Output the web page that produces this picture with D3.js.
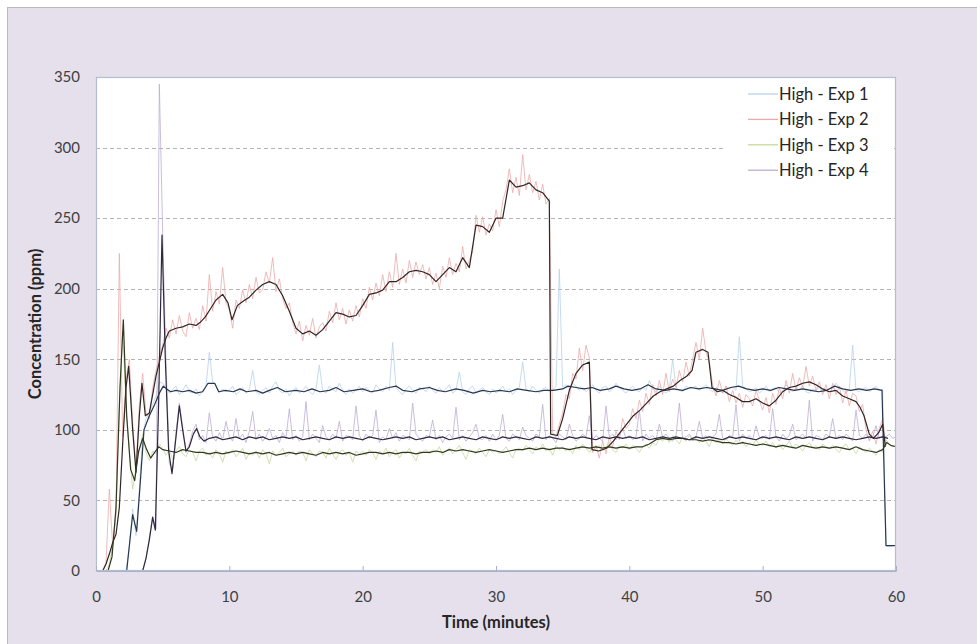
<!DOCTYPE html>
<html>
<head>
<meta charset="utf-8">
<script src="https://cdn.jsdelivr.net/npm/d3@7"></script>
<style>
  html, body { margin: 0; padding: 0; background: #ffffff; }
  svg { display: block; font-family: Lato, "Open Sans", sans-serif; }
</style>
</head>
<body>
<svg id="chart" width="977" height="644"></svg>
<script>
// ---- Data -------------------------------------------------------------
const seriesNames = ["High - Exp 1", "High - Exp 2", "High - Exp 3", "High - Exp 4"];
const xTicks = [0, 10, 20, 30, 40, 50, 60];
const yTicks = [0, 50, 100, 150, 200, 250, 300, 350];
const gridValues = [50, 100, 150, 200, 250, 300];
const sampleStep = 0.25; // minutes between logged readings

// Logged readings (ppm), one every 15 s from 0 to 60 min
const exp1 = [
  0,0,0,0,0,0,0,0,0,0, 18,44,25,58,96,108,112,118,124,134,
  133,130,126,129,131,125,128,132,127,126, 129,124,128,131,155,134,132,126,129,127,
  128,131,125,127,130,126,129,142,127,125, 128,130,126,131,134,128,126,129,124,128,
  130,126,128,131,127,125,129,146,128,126, 131,129,127,133,128,125,129,126,128,131,
  127,130,128,126,132,129,127,131,128,162, 130,127,125,129,131,128,126,130,129,127,
  131,128,126,130,127,129,132,126,128,141, 127,125,129,131,126,128,130,127,125,129,
  126,128,131,127,129,125,128,130,148,129, 127,131,128,126,129,130,127,128,131,214,
  130,132,129,133,131,128,130,127,129,132, 128,126,130,131,127,129,133,130,128,126,
  129,131,128,127,130,128,135,129,127,131, 128,126,129,150,130,128,127,131,129,130,
  131,128,130,132,129,127,130,128,126,131, 129,130,128,166,131,129,127,128,130,126,
  128,131,127,129,130,126,128,132,129,127, 130,128,131,127,126,129,128,130,127,129,
  127,129,133,130,128,126,129,160,128,127, 129,130,127,129,131,128,129,18,17,18,
  18
];
const exp2 = [
  0,0,0,6,58,18,40,225,95,135, 150,105,72,118,140,112,108,130,142,152,
  160,172,165,178,168,181,170,166,183,172, 179,171,188,177,210,184,198,189,215,190,
  185,172,192,186,199,190,203,193,208,197, 199,212,204,222,198,207,193,186,190,176,
  168,177,163,174,167,179,165,173,176,170, 184,176,190,178,186,175,185,177,188,180,
  193,186,201,192,204,195,210,198,212,201, 225,203,214,204,220,208,219,210,217,207,
  215,203,211,200,216,208,222,210,218,212, 230,214,220,226,252,240,251,238,246,241,
  256,244,262,270,285,268,279,266,295,270, 281,268,276,263,274,260,264,98,95,104,
  112,125,122,140,136,158,142,160,151,84, 89,80,92,83,95,88,99,93,108,101,
  104,115,108,121,113,126,118,132,124,135, 125,140,127,136,130,142,134,148,138,150,
  162,150,172,155,148,132,124,135,126,131, 120,128,119,126,116,125,122,117,128,121,
  114,123,112,126,118,130,122,135,126,140, 128,137,130,145,131,138,128,134,125,132,
  122,133,125,131,119,128,117,126,124,113, 118,100,92,99,90,101,108,89,null,null,
  null
];
const exp3 = [
  0,0,0,0,5,18,42,115,170,118, 84,58,74,85,97,84,78,85,83,90,
  87,82,86,79,85,88,83,81,86,84, 78,85,87,82,84,80,86,83,77,85,
  83,86,81,84,87,79,84,82,85,80, 86,83,76,85,82,84,87,81,83,85,
  82,85,84,78,86,83,81,85,84,80, 87,83,79,84,86,82,84,77,85,83,
  85,82,86,84,79,85,83,87,81,84, 86,80,84,83,87,82,78,85,84,86,
  83,86,84,88,82,85,87,83,86,89, 84,79,86,85,83,87,84,81,86,84,
  86,83,85,88,84,80,86,87,85,89, 86,83,88,86,90,85,87,82,89,86,
  88,85,87,83,89,86,90,87,84,88, 86,89,85,88,91,86,84,89,87,90,
  86,89,87,84,88,90,87,91,89,94, 92,95,91,96,93,90,95,92,96,93,
  94,91,95,92,88,94,91,93,90,94, 91,89,93,90,92,88,91,89,93,90,
  89,92,88,91,87,90,86,89,92,87, 90,88,85,89,91,87,89,86,90,88,
  87,89,86,84,88,90,86,87,83,88, 86,84,87,85,82,86,84,93,90,88,
  89
];
const exp4 = [
  0,0,0,0,0,0,0,0,0,0, 0,0,0,0,0,9,24,39,30,345,
  240,148,76,72,98,119,102,84,90,99, 104,93,96,91,112,95,92,98,93,106,
  95,92,108,94,97,91,99,113,93,97, 92,95,101,94,96,91,98,94,115,93,
  96,92,95,120,93,97,94,91,103,95, 93,97,94,106,92,96,95,93,117,96,
  92,97,94,96,114,91,95,93,101,94, 98,92,96,95,93,119,97,94,92,96,
  95,107,93,96,91,95,97,94,116,93, 96,92,95,98,104,94,93,96,92,97,
  93,96,111,94,92,97,95,93,102,96, 94,92,97,95,118,93,96,94,91,97,
  95,93,104,96,92,94,97,95,110,93, 96,94,92,117,95,97,93,96,101,94,
  96,93,95,114,92,97,94,96,93,104, 95,97,94,92,96,119,94,95,97,93,
  95,106,94,96,92,95,97,111,94,93, 96,95,118,92,97,94,96,93,103,95,
  94,96,93,115,95,92,97,94,96,104, 93,95,97,94,121,92,96,95,93,97,
  95,108,94,96,93,97,95,92,114,96, 94,97,93,95,103,94,96,95,97,94,
  95
];

// Moving-average trend of each run, [minutes, ppm]
const exp1Trend = [
  [0,0],[2.3,0],[2.75,40],[3.05,28],[3.3,60],[3.6,100],[4.0,110],[4.4,118],[4.75,126],[5.05,131],
  [5.3,129],[5.6,127],[6,128],[6.5,127],[7,128],[7.5,126],[8,127],[8.4,133],[8.9,133],[9.2,127],
  [9.7,128],[10.3,127],[10.8,129],[11.3,127],[12,128],[12.5,126],[13,128],[13.6,130],[14.2,127],[15,128],
  [15.6,127],[16.2,129],[16.8,127],[17.5,128],[18,130],[18.6,127],[19.3,128],[20,129],[20.6,127],[21.2,128],
  [22,130],[22.5,131],[23,128],[23.7,127],[24.3,129],[25,130],[25.6,128],[26.2,127],[27,129],[27.6,128],
  [28.3,126],[29,128],[29.6,127],[30.3,128],[31,127],[31.6,129],[32.3,128],[33,127],[33.6,128],[34.3,128],
  [35,129],[35.4,131],[36,130],[36.6,129],[37.2,130],[37.8,128],[38.5,129],[39,131],[39.6,129],[40.2,128],
  [40.8,129],[41.4,132],[42,129],[42.7,128],[43.3,129],[44,128],[44.6,130],[45.2,129],[45.8,130],[46.4,129],
  [47,128],[47.6,130],[48.2,131],[48.8,129],[49.4,128],[50,129],[50.6,128],[51.2,130],[51.8,129],[52.4,128],
  [53,129],[53.6,128],[54.2,127],[54.8,128],[55.4,131],[56,129],[56.6,128],[57.2,129],[57.8,128],[58.4,129],
  [58.95,128],[59.25,18],[60,18]
];
const exp2Trend = [
  [0,0],[0.5,0],[0.75,5],[1,12],[1.25,20],[1.5,26],[1.75,45],[2,90],[2.25,130],[2.45,145],
  [2.75,100],[3,70],[3.25,110],[3.45,133],[3.7,110],[4,112],[4.25,125],[4.5,138],[4.75,148],[5,158],
  [5.25,165],[5.5,170],[6,172],[6.5,173],[7,175],[7.5,174],[7.8,176],[8.2,180],[8.6,186],[9,192],
  [9.5,196],[9.9,190],[10.2,178],[10.6,188],[11,191],[11.5,194],[12,199],[12.5,203],[13,205],[13.5,203],
  [14,195],[14.5,184],[15,172],[15.5,168],[16,170],[16.5,167],[17,171],[17.5,177],[18,183],[18.5,182],
  [19,180],[19.5,181],[20,188],[20.5,196],[21,197],[21.5,199],[22,205],[22.5,205],[23,208],[23.5,212],
  [24,213],[24.5,212],[25,210],[25.5,205],[26,210],[26.5,215],[27,212],[27.5,222],[28,215],[28.5,245],
  [29,244],[29.5,240],[30,250],[30.5,250],[31,277],[31.5,272],[32,273],[32.5,275],[33,270],[33.5,268],
  [34,262],[34.1,97],[34.6,96],[35,108],[35.5,128],[36,140],[36.5,146],[37,148],[37.2,86],[37.7,85],
  [38.3,87],[38.8,92],[39.3,98],[39.8,104],[40.3,110],[40.8,114],[41.3,119],[41.8,124],[42.3,127],[42.8,129],
  [43.3,131],[43.8,135],[44.3,138],[44.7,142],[45,155],[45.5,157],[45.9,155],[46.2,130],[46.6,127],[47,128],
  [47.5,125],[48,123],[48.5,120],[49,120],[49.5,122],[50,119],[50.5,117],[51,121],[51.5,127],[52,130],
  [52.5,131],[53,133],[53.5,134],[54,132],[54.5,129],[55,127],[55.5,128],[56,124],[56.5,122],[57,120],
  [57.3,116],[57.6,110],[58,97],[58.3,94],[58.7,98],[59,104],[59.2,88]
];
const exp3Trend = [
  [0,0],[0.9,0],[1.2,10],[1.5,45],[1.8,130],[2.05,178],[2.3,110],[2.6,72],[2.9,64],[3.2,85],
  [3.5,94],[3.8,86],[4.1,80],[4.4,84],[4.7,88],[5,86],[5.5,85],[6,84],[6.5,86],[7,85],
  [7.5,84],[8,84],[8.5,83],[9,84],[9.5,83],[10,84],[10.5,85],[11,84],[11.5,83],[12,84],
  [12.5,83],[13,84],[13.5,82],[14,83],[14.5,84],[15,83],[15.5,84],[16,83],[16.5,82],[17,84],
  [17.5,83],[18,84],[18.5,83],[19,84],[19.5,82],[20,83],[20.5,84],[21,84],[21.5,83],[22,84],
  [22.5,83],[23,84],[23.5,84],[24,83],[24.5,84],[25,84],[25.5,85],[26,84],[26.5,86],[27,85],
  [27.5,86],[28,85],[28.5,84],[29,85],[29.5,86],[30,85],[30.5,84],[31,85],[31.5,86],[32,86],
  [32.5,87],[33,86],[33.5,87],[34,86],[34.5,87],[35,87],[35.5,86],[36,87],[36.5,88],[37,87],
  [37.5,88],[38,87],[38.5,88],[39,87],[39.5,88],[40,87],[40.5,88],[41,88],[41.5,90],[42,93],
  [42.5,94],[43,93],[43.5,94],[44,94],[44.5,93],[45,93],[45.5,92],[46,93],[46.5,92],[47,91],
  [47.5,91],[48,90],[48.5,91],[49,90],[49.5,89],[50,90],[50.5,89],[51,88],[51.5,89],[52,88],
  [52.5,87],[53,89],[53.5,88],[54,87],[54.5,88],[55,87],[55.5,88],[56,87],[56.5,86],[57,88],
  [57.5,86],[58,85],[58.5,84],[59,86],[59.3,91],[59.6,89],[60,88]
];
const exp4Trend = [
  [0,0],[3.5,0],[3.75,9],[4.0,22],[4.25,38],[4.45,29],[4.7,120],[4.95,238],[5.2,150],[5.45,85],
  [5.7,69],[6.0,95],[6.25,117],[6.5,100],[6.75,85],[7.0,88],[7.3,97],[7.55,101],[7.8,95],[8.1,92],
  [8.5,94],[9,95],[9.5,93],[10,94],[10.5,95],[11,93],[11.5,95],[12,94],[12.5,95],[13,93],
  [13.5,94],[14,95],[14.5,94],[15,95],[15.5,93],[16,94],[16.5,95],[17,94],[17.5,93],[18,95],
  [18.5,94],[19,95],[19.5,94],[20,93],[20.5,95],[21,94],[21.5,93],[22,94],[22.5,95],[23,94],
  [23.5,95],[24,93],[24.5,94],[25,95],[25.5,94],[26,95],[26.5,93],[27,94],[27.5,95],[28,94],
  [28.5,93],[29,95],[29.5,94],[30,93],[30.5,95],[31,94],[31.5,95],[32,94],[32.5,93],[33,95],
  [33.5,94],[34,95],[34.5,94],[35,93],[35.5,95],[36,94],[36.5,95],[37,94],[37.5,93],[38,95],
  [38.5,94],[39,95],[39.5,94],[40,95],[40.5,94],[41,95],[41.5,93],[42,94],[42.5,95],[43,94],
  [43.5,95],[44,94],[44.5,93],[45,95],[45.5,94],[46,95],[46.5,94],[47,93],[47.5,95],[48,94],
  [48.5,95],[49,94],[49.5,93],[50,95],[50.5,94],[51,95],[51.5,94],[52,93],[52.5,95],[53,94],
  [53.5,95],[54,94],[54.5,93],[55,95],[55.5,94],[56,95],[56.5,94],[57,93],[57.5,94],[58,95],
  [58.5,94],[59,95],[59.4,94]
];

// ---- Styling ----------------------------------------------------------
const rawColors   = ["#b9d1ee", "#eeaaaa", "#c6da9c", "#bcaed3"];
const trendColors = ["#27374d", "#302626", "#2f3a20", "#30293f"];

// ---- Drawing ----------------------------------------------------------
const svg = d3.select("#chart");
const W = 977, H = 644;
const plot = { left: 96, right: 896, top: 77, bottom: 571 };

// chart area frame
svg.append("rect")
  .attr("x", 7.5).attr("y", 7.5)
  .attr("width", W + 10).attr("height", H + 10)
  .attr("fill", "#e5e0ec")
  .attr("stroke", "#b9b9c0").attr("stroke-width", 1);

// plot area
svg.append("rect")
  .attr("x", plot.left).attr("y", plot.top)
  .attr("width", plot.right - plot.left).attr("height", plot.bottom - plot.top)
  .attr("fill", "#ffffff");

const x = d3.scaleLinear().domain([0, 60]).range([plot.left, plot.right]);
const y = d3.scaleLinear().domain([0, 350]).range([plot.bottom, plot.top]);

// dashed gridlines
svg.append("g")
  .selectAll("line")
  .data(gridValues)
  .join("line")
  .attr("x1", plot.left).attr("x2", plot.right)
  .attr("y1", d => Math.round(y(d)) + 0.5).attr("y2", d => Math.round(y(d)) + 0.5)
  .attr("stroke", "#b4b4b4")
  .attr("stroke-width", 1)
  .attr("stroke-dasharray", "4,3");

const minutes = d3.range(exp1.length).map(i => i * sampleStep);
const rawSeries = [exp1, exp2, exp3, exp4];
const trendSeries = [exp1Trend, exp2Trend, exp3Trend, exp4Trend];

svg.append("clipPath").attr("id", "plotClip")
  .append("rect")
  .attr("x", plot.left).attr("y", plot.top - 2)
  .attr("width", plot.right - plot.left).attr("height", plot.bottom - plot.top + 2);

const rawLine = d3.line()
  .defined(d => d[1] !== null)
  .x(d => x(d[0]))
  .y(d => y(d[1]));

const lines = svg.append("g").attr("clip-path", "url(#plotClip)");

rawSeries.forEach((vals, k) => {
  lines.append("path")
    .datum(vals.map((v, i) => [minutes[i], v]))
    .attr("fill", "none")
    .attr("stroke", rawColors[k])
    .attr("stroke-width", 1)
    .attr("stroke-linejoin", "round")
    .attr("opacity", 0.8)
    .attr("d", rawLine);
});

const trendLine = d3.line().x(d => x(d[0])).y(d => y(d[1]));
trendSeries.forEach((pts, k) => {
  lines.append("path")
    .datum(pts)
    .attr("fill", "none")
    .attr("stroke", trendColors[k])
    .attr("stroke-width", 1.2)
    .attr("stroke-linejoin", "round")
    .attr("d", trendLine);
});

// plot border
svg.append("rect")
  .attr("x", plot.left + 0.5).attr("y", plot.top + 0.5)
  .attr("width", plot.right - plot.left - 1).attr("height", plot.bottom - plot.top - 1)
  .attr("fill", "none")
  .attr("stroke", "#b3bdd6").attr("stroke-width", 1.2);

// axes
const yAxis = svg.append("g")
  .attr("transform", `translate(${plot.left},0)`)
  .call(d3.axisLeft(y).tickValues(yTicks).tickSize(0).tickPadding(16));
yAxis.select(".domain").remove();

const xAxis = svg.append("g")
  .attr("transform", `translate(0,${plot.bottom})`)
  .call(d3.axisBottom(x).tickValues(xTicks).tickSizeInner(-5).tickSizeOuter(0).tickPadding(20));
xAxis.select(".domain").attr("stroke", "#a9b1c6");
xAxis.selectAll(".tick line").attr("stroke", "#a9b1c6");

svg.selectAll(".tick text")
  .attr("font-family", "Lato, 'Open Sans', sans-serif")
  .attr("font-size", 15)
  .attr("fill", "#404040");

// axis titles
svg.append("text")
  .attr("transform", `translate(41,${(plot.top + plot.bottom) / 2}) rotate(-90)`)
  .attr("text-anchor", "middle")
  .attr("font-size", 16.5).attr("font-weight", "bold")
  .attr("fill", "#262626")
  .text("Concentration (ppm)");

svg.append("text")
  .attr("x", (plot.left + plot.right) / 2).attr("y", 628)
  .attr("text-anchor", "middle")
  .attr("font-size", 16.5).attr("font-weight", "bold")
  .attr("fill", "#262626")
  .text("Time (minutes)");

// legend
const legend = svg.append("g");
legend.append("rect")
  .attr("x", 725).attr("y", 82).attr("width", 166).attr("height", 101)
  .attr("fill", "#ffffff");
const legendItems = legend.selectAll("g.item")
  .data(seriesNames)
  .join("g")
  .attr("class", "item")
  .attr("transform", (d, i) => `translate(0,${94 + i * 25.4})`);
legendItems.append("line")
  .attr("x1", 748).attr("x2", 778).attr("y1", 0).attr("y2", 0)
  .attr("stroke", (d, i) => rawColors[i]).attr("stroke-width", 1.3);
legendItems.append("text")
  .attr("x", 779).attr("y", 0).attr("dy", "0.35em")
  .attr("font-size", 16.5).attr("fill", "#262626")
  .text(d => d);
</script>
</body>
</html>
